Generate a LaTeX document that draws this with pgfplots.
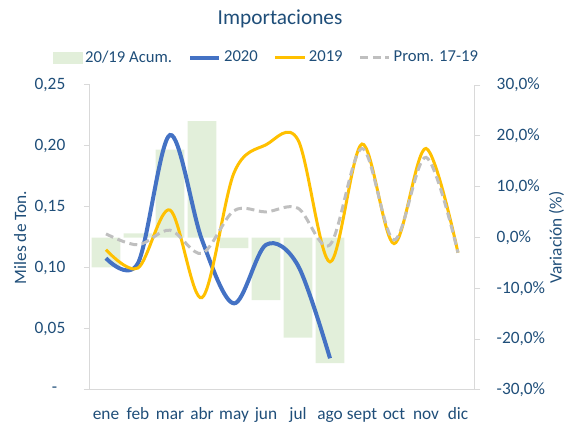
\documentclass[border=0pt]{standalone}
\usepackage{fontspec}
\setmainfont{Carlito}
\usepackage{pgfplots}
\pgfplotsset{compat=1.18}
\definecolor{txt}{RGB}{31,78,121}
\definecolor{barg}{RGB}{226,239,218}
\definecolor{c2020}{RGB}{68,114,196}
\definecolor{c2019}{RGB}{255,192,0}
\definecolor{prom}{RGB}{191,191,191}
\definecolor{axln}{RGB}{217,217,217}

\pgfplotsset{
  base/.style={
    scale only axis, width=288pt, height=228.75pt,
    at={(67.5pt,26.25pt)}, anchor=south west,
    xmin=-0.5, xmax=11.5,
    tick align=outside, major tick length=4.5pt,
    every tick/.style={axln, line width=0.75pt},
    axis line style={-, axln, line width=0.75pt},
    tick label style={font=\fontsize{13}{15}\selectfont, text=txt},
    label style={font=\fontsize{13}{15}\selectfont, text=txt},
  },
}

\begin{document}
\begin{tikzpicture}
\useasboundingbox (0,0) rectangle (426pt,318.75pt);

% bars, secondary axis (%)
\begin{axis}[base,
  ymin=-30, ymax=30,
  axis y line*=right, axis x line=none, xtick=\empty,
  ytick={-30,-20,-10,0,10,20,30},
  yticklabels={{-30,0\%},{-20,0\%},{-10,0\%},{0,0\%},{10,0\%},{20,0\%},{30,0\%}},
  yticklabel style={anchor=west, xshift=9pt},
  ylabel={Variación (\%)},
  ylabel style={at={(axis description cs:1.215,0.5)}, anchor=center},
]
\addplot[ybar, bar width=0.9, fill=barg, draw=none] coordinates {
  (0,-5.9) (1,0.8) (2,17.3) (3,22.9) (4,-2.1) (5,-12.3) (6,-19.7) (7,-24.7)
};
\end{axis}

% lines, primary axis
\begin{axis}[base,
  ymin=0, ymax=0.25,
  axis y line*=left, axis x line*=bottom,
  xtick={0,1,2,3,4,5,6,7,8,9,10,11},
  xticklabels={ene,feb,mar,abr,may,jun,jul,ago,sept,oct,nov,dic},
  x tick style={draw=none},
  xticklabel style={anchor=base, yshift=-18pt},
  ytick={0,0.05,0.1,0.15,0.2,0.25},
  yticklabels={{-\rule{6pt}{0pt}},{0,05},{0,10},{0,15},{0,20},{0,25}},
  yticklabel style={anchor=east, xshift=-10.5pt},
  ylabel={Miles de Ton.},
  ylabel style={at={(axis description cs:-0.182,0.5)}, anchor=center},
  title={Importaciones},
  title style={at={(axis description cs:0.495,1.171)}, anchor=base,
    font=\fontsize{16}{19}\selectfont, text=txt},
  legend style={draw=none, fill=none, at={(axis description cs:0.46,1.09)},
    anchor=center, legend columns=4, font=\fontsize{12.5}{15}\selectfont,
    text=txt, /tikz/every even column/.append style={column sep=10pt}},
  legend cell align=left,
  legend image code/.code={\draw[#1] (0pt,0pt) -- (22pt,0pt);},
]
\addlegendimage{legend image code/.code={\fill[barg] (0pt,-4pt) rectangle (22pt,4pt);}}
\addlegendentry{20/19 Acum.}
\addplot[smooth, tension=0.55, c2020, line width=3pt] coordinates {
  (0,0.108) (1,0.104) (2,0.209) (3,0.123) (4,0.071) (5,0.119) (6,0.102) (7,0.026)
};
\addlegendentry{2020}
\addplot[smooth, tension=0.55, c2019, line width=2.25pt] coordinates {
  (0,0.115) (1,0.100) (2,0.1475) (3,0.0757) (4,0.178) (5,0.201) (6,0.205)
  (7,0.105) (8,0.2016) (9,0.120) (10,0.198) (11,0.1125)
};
\addlegendentry{2019}
\addplot[smooth, tension=0.55, prom, line width=2.25pt, dash pattern=on 6pt off 3.5pt] coordinates {
  (0,0.128) (1,0.119) (2,0.131) (3,0.112) (4,0.147) (5,0.146) (6,0.149)
  (7,0.119) (8,0.198) (9,0.123) (10,0.1907) (11,0.1125)
};
\addlegendentry{Prom. 17-19}
\end{axis}
\end{tikzpicture}
\end{document}
